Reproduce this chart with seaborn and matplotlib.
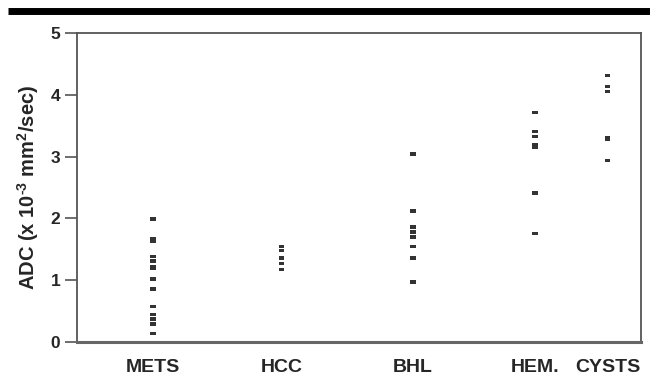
import matplotlib
matplotlib.use("Agg")
import matplotlib.pyplot as plt
from matplotlib.lines import Line2D
import seaborn as sns
import pandas as pd

# ---- data ----
categories = ["METS", "HCC", "BHL", "HEM.", "CYSTS"]
mets = [1.99, 1.68, 1.63, 1.38, 1.31, 1.22, 1.19, 1.02, 0.86, 0.57, 0.45, 0.37, 0.29, 0.14]
hcc = [1.55, 1.48, 1.36, 1.27, 1.17]
bhl = [3.04, 2.12, 1.86, 1.78, 1.70, 1.55, 1.36, 0.97]
hem = [3.71, 3.41, 3.33, 3.19, 3.15, 2.41, 1.76]
cysts = [4.31, 4.13, 4.05, 3.31, 3.28, 2.94]
yticks = [0, 1, 2, 3, 4, 5]
ylabel = r"ADC (x 10$^{\text{-3}}$ mm$^{\text{2}}$/sec)"

# layout: horizontal positions of the groups
xpos = [0, 1.01, 2.04, 3.0, 3.57]

series = [mets, hcc, bhl, hem, cysts]
rows = []
for cat, xp, vals in zip(categories, xpos, series):
    for v in vals:
        rows.append({"cat": cat, "x": xp, "ADC": v})
df = pd.DataFrame(rows)

sns.set_style("white")
plt.rcParams["font.family"] = ["Liberation Sans", "DejaVu Sans"]
plt.rcParams["mathtext.fontset"] = "custom"
plt.rcParams["mathtext.rm"] = "Liberation Sans:bold"
plt.rcParams["mathtext.bf"] = "Liberation Sans:bold"
plt.rcParams["mathtext.it"] = "Liberation Sans:bold"
plt.rcParams["mathtext.default"] = "bf"

fig = plt.figure(figsize=(6.5, 3.75), dpi=100)
ax = fig.add_axes([77 / 650, 1 - 342 / 375, (641 - 77) / 650, (342 - 33) / 375])

rect = [(-1, -0.6), (1, -0.6), (1, 0.6), (-1, 0.6)]
sns.scatterplot(data=df, x="x", y="ADC", ax=ax, marker=rect, s=16,
                color="#333333", edgecolor="none", linewidth=0, legend=False)

ax.set_xlim(-0.597, 3.833)
ax.set_ylim(0, 5)
ax.set_yticks(yticks)
ax.set_yticklabels([str(t) for t in yticks], fontsize=12.5, fontweight="bold")
ax.set_xticks(xpos)
ax.set_xticklabels(categories, fontsize=14, fontweight="bold")
ax.tick_params(axis="x", length=0, pad=12)
ax.tick_params(axis="y", length=9, width=1.2, color="#555555", pad=3, left=True)
ax.set_xlabel("")
ax.set_ylabel(ylabel, fontsize=14.5, fontweight="bold", labelpad=7)

for side, sp in ax.spines.items():
    sp.set_visible(True)
    sp.set_color("#555555")
    sp.set_linewidth(1.3)
ax.spines["bottom"].set_linewidth(2.2)
ax.spines["bottom"].set_color("#666666")

# black bar at the top of the figure
fig.add_artist(Line2D([8 / 650, 1.0], [1 - 11 / 375, 1 - 11 / 375],
                      transform=fig.transFigure, color="black", linewidth=5,
                      solid_capstyle="butt"))

fig.savefig("out.png", dpi=100)
